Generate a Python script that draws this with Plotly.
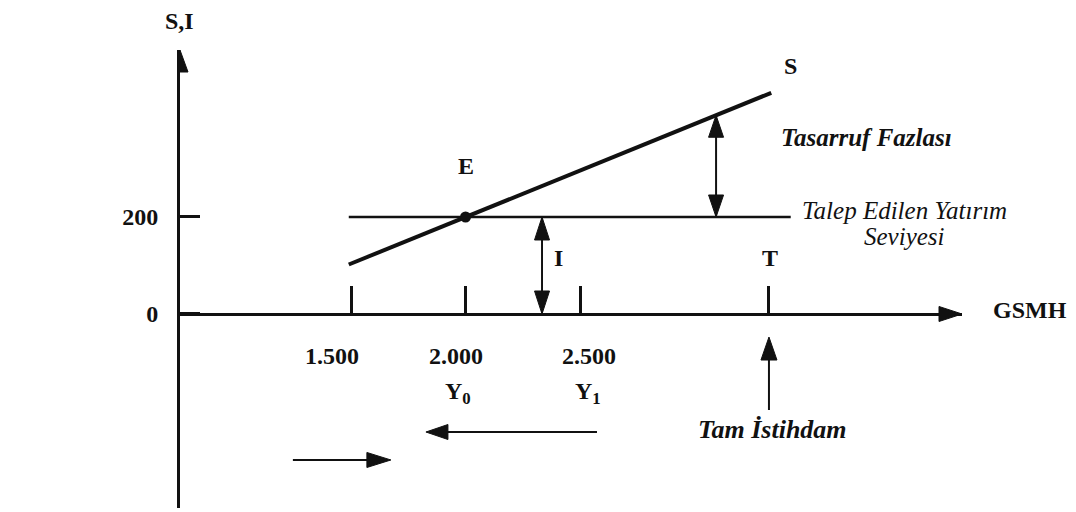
import numpy as np
import plotly.graph_objects as go

# ---------------- data ----------------
x_tick_values = [1500, 2000, 2500]
x_tick_labels = ["1.500", "2.000", "2.500"]
income_levels = [2000, 2500]
income_labels = ["Y<sub>0</sub>", "Y<sub>1</sub>"]
y_tick_values = [0, 200]
y_tick_labels = ["0", "200"]
full_employment_gnp = 3325
saving_gnp = [1490, 3335]
saving_level = [102, 456]
investment_gnp = [1490, 3420]
investment_level = [200, 200]
equilibrium_gnp = [2000]
equilibrium_level = [200]
investment_arrow_gnp = 2334
surplus_arrow_gnp = 3094

X_RANGE = [753, 4168]
Y_RANGE = [-400, 544.3]

INK = "#111111"
SERIF = "Liberation Serif"


def font(size=24, bold=True, italic=False):
    return dict(family=SERIF, size=size, color=INK,
                weight="bold" if bold else "normal",
                style="italic" if italic else "normal")


def head(x, y, direction, length=22, half=8):
    if direction == "up":
        p = f"M0,0 L{-half},{-length} L{half},{-length} Z"
    elif direction == "down":
        p = f"M0,0 L{-half},{length} L{half},{length} Z"
    elif direction == "left":
        p = f"M0,0 L{length},{half} L{length},{-half} Z"
    else:
        p = f"M0,0 L{-length},{half} L{-length},{-half} Z"
    return dict(type="path", xref="x", yref="y", xsizemode="pixel",
                ysizemode="pixel", xanchor=x, yanchor=y, path=p,
                fillcolor=INK, line=dict(color=INK, width=1), layer="above")


def shaft(x0, y0, x1, y1, width=2):
    return dict(type="line", xref="x", yref="y", x0=x0, y0=y0, x1=x1, y1=y1,
                line=dict(color=INK, width=width), layer="above")


fig = go.Figure()
fig.add_trace(go.Scatter(x=investment_gnp, y=investment_level, mode="lines",
                         line=dict(color=INK, width=2.5), hoverinfo="skip"))
fig.add_trace(go.Scatter(x=saving_gnp, y=saving_level, mode="lines",
                         line=dict(color=INK, width=4), hoverinfo="skip"))
fig.add_trace(go.Scatter(x=equilibrium_gnp, y=equilibrium_level, mode="markers",
                         marker=dict(color=INK, size=11), hoverinfo="skip"))

surplus_top = float(np.interp(surplus_arrow_gnp, saving_gnp, saving_level))

shapes = [
    # axis arrow heads
    head(X_RANGE[0], Y_RANGE[1], "up", 22, 8),
    head(X_RANGE[1], 0, "right", 23, 7.5),
    # I arrow
    shaft(investment_arrow_gnp, 0, investment_arrow_gnp, investment_level[0]),
    head(investment_arrow_gnp, investment_level[0], "up", 23, 7.5),
    head(investment_arrow_gnp, 0, "down", 23, 7.5),
    # saving surplus arrow
    shaft(surplus_arrow_gnp, investment_level[0], surplus_arrow_gnp, surplus_top),
    head(surplus_arrow_gnp, surplus_top, "up", 22, 7.5),
    head(surplus_arrow_gnp, investment_level[0], "down", 22, 7.5),
    # full employment arrow
    shaft(full_employment_gnp, -198, full_employment_gnp, -60),
    head(full_employment_gnp, -47.5, "up", 23, 8),
    # movement arrows
    shaft(2574, -243.3, 1880, -243.3),
    head(1827, -243.3, "left", 22, 7.5),
    shaft(1246, -301, 1620, -301),
    head(1674, -301, "right", 24, 7.5),
]

ann = []
for v, t, dx in zip(x_tick_values, x_tick_labels, [-19, -10, 9]):
    ann.append(dict(x=v, y=-86.6, text=t, showarrow=False, xshift=dx,
                    font=font(24)))
for v, t, dx in zip(income_levels, income_labels, [-8, 8]):
    ann.append(dict(x=v, y=-163, text=t, showarrow=False, xshift=dx,
                    font=font(24)))

labels = [
    (3421, 511, "S", font(24)),
    (2000, 305, "E", font(24)),
    (2408, 115.4, "I", font(24)),
    (3329, 115, "T", font(24)),
    (3753, 362.9, "Tasarruf Fazlası", font(25, True, True)),
    (3919, 214.4, "Talep Edilen Yatırım", font(25, False, True)),
    (3915, 160.8, "Seviyesi", font(25, False, True)),
    (full_employment_gnp + 17, -239, "Tam İstihdam", font(26, True, True)),
]
for x, y, t, f in labels:
    ann.append(dict(x=x, y=y, text=t, showarrow=False, font=f,
                    xanchor="center", yanchor="middle"))

# labels that sit outside the axis ranges (placed in paper space)
ann.append(dict(xref="paper", yref="paper", x=-0.001, y=1.0633, text="S,I",
                showarrow=False, font=font(24),
                xanchor="center", yanchor="middle"))
ann.append(dict(xref="paper", yref="y", x=1.087, y=8.2, text="GSMH",
                showarrow=False, font=font(24),
                xanchor="center", yanchor="middle"))

x_position = (0 - Y_RANGE[0]) / (Y_RANGE[1] - Y_RANGE[0])

fig.update_layout(
    width=1076, height=512,
    margin=dict(l=180, r=114, t=50, b=4),
    paper_bgcolor="white", plot_bgcolor="rgba(0,0,0,0)",
    showlegend=False,
    shapes=shapes, annotations=ann,
    xaxis=dict(range=X_RANGE, anchor="free", position=x_position,
               showline=True, linecolor=INK, linewidth=2.5,
               ticks="inside", ticklen=27, tickwidth=2.5, tickcolor=INK,
               tickvals=x_tick_values + [full_employment_gnp],
               showticklabels=False, showgrid=False, zeroline=False,
               fixedrange=True),
    yaxis=dict(range=Y_RANGE, showline=True, linecolor=INK, linewidth=3,
               ticks="inside", ticklen=20, tickwidth=2.5, tickcolor=INK,
               tickvals=y_tick_values, ticktext=y_tick_labels,
               tickfont=font(24), ticklabelstandoff=14,
               showgrid=False, zeroline=False, fixedrange=True),
)

fig.write_html("out.html", config={"displayModeBar": False},
               post_script="document.body.style.margin='0px';")
